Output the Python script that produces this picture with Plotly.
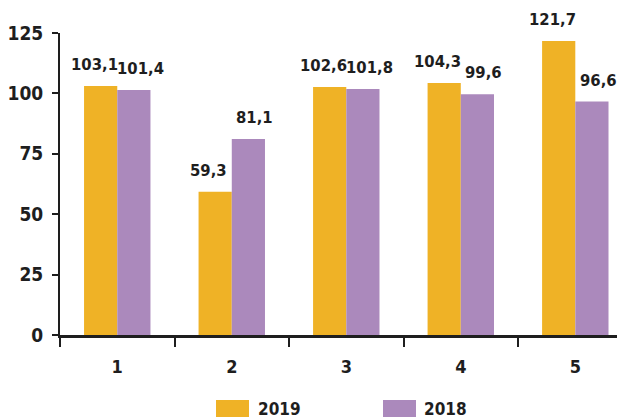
import plotly.graph_objects as go

categories = ["1", "2", "3", "4", "5"]
values_2019 = [103.1, 59.3, 102.6, 104.3, 121.7]
values_2018 = [101.4, 81.1, 101.8, 99.6, 96.6]
series_names = ["2019", "2018"]
colors = ["#EFB226", "#AB89BC"]
y_ticks = [0, 25, 50, 75, 100, 125]

FONT = "DejaVu Sans Condensed, DejaVu Sans, sans-serif"
TXT = "#1e1e1e"

# page has an 8px body margin: work in page pixels, convert to figure pixels
OFF = 8
W, H = 625 - OFF, 420 - OFF
ML, MR, MT = 60 - OFF, 0, 33 - OFF
MB = H - (335 - OFF)
pw, ph = W - ML - MR, H - MT - MB

def px_x(p):
    return (p - OFF - ML) / pw

def px_y(p):
    return (H - MB - (p - OFF)) / ph

fig = go.Figure()
for name, vals, col in zip(series_names, [values_2019, values_2018], colors):
    fig.add_trace(go.Bar(
        x=categories, y=vals, name=name, marker=dict(color=col, line=dict(width=0)),
        showlegend=False,
    ))

annotations = []
for vals, shift in zip([values_2019, values_2018], [-23, 23]):
    for i, v in enumerate(vals):
        annotations.append(dict(
            x=i, y=v, xref="x", yref="y", text=f"{v:.1f}".replace(".", ","),
            showarrow=False, xanchor="center", yanchor="bottom",
            xshift=shift, yshift=11, borderpad=0,
            font=dict(family=FONT, size=16.5, color=TXT, weight="bold"),
        ))

shapes = []
legend_pos = [(216, 249, 256), (383, 416, 422)]
for (x0, x1, tx), name, col in zip(legend_pos, series_names, colors):
    shapes.append(dict(type="rect", xref="paper", yref="paper",
                       x0=px_x(x0), x1=px_x(x1), y0=px_y(417), y1=px_y(400),
                       fillcolor=col, line=dict(width=0)))
    annotations.append(dict(xref="paper", yref="paper", x=px_x(tx), y=px_y(408.5),
                            text=name, showarrow=False, xanchor="left", yanchor="middle",
                            font=dict(family=FONT, size=17, color=TXT, weight="bold")))

fig.update_layout(
    width=W, height=H,
    margin=dict(l=ML, r=MR, t=MT, b=MB, pad=0, autoexpand=False),
    paper_bgcolor="white", plot_bgcolor="white",
    barmode="group", bargap=0.42, bargroupgap=0,
    font=dict(family=FONT, color=TXT),
    shapes=shapes, annotations=annotations,
    xaxis=dict(
        type="category", range=[-0.5, 4.434], automargin=False,
        showline=True, linecolor=TXT, linewidth=2.5,
        ticks="outside", tickson="boundaries", ticklen=9, tickwidth=2, tickcolor=TXT,
        tickfont=dict(family=FONT, size=18, color=TXT, weight="bold"),
        ticklabelstandoff=14,
        showgrid=False, zeroline=False, fixedrange=True,
    ),
    yaxis=dict(
        range=[0, 125], tickvals=y_ticks, automargin=False,
        showline=True, linecolor=TXT, linewidth=2,
        ticks="outside", ticklen=6, tickwidth=2, tickcolor=TXT,
        tickfont=dict(family=FONT, size=19, color=TXT, weight="bold"),
        ticklabelstandoff=5,
        showgrid=False, zeroline=False, fixedrange=True,
    ),
)

fig.write_html("out.html")
